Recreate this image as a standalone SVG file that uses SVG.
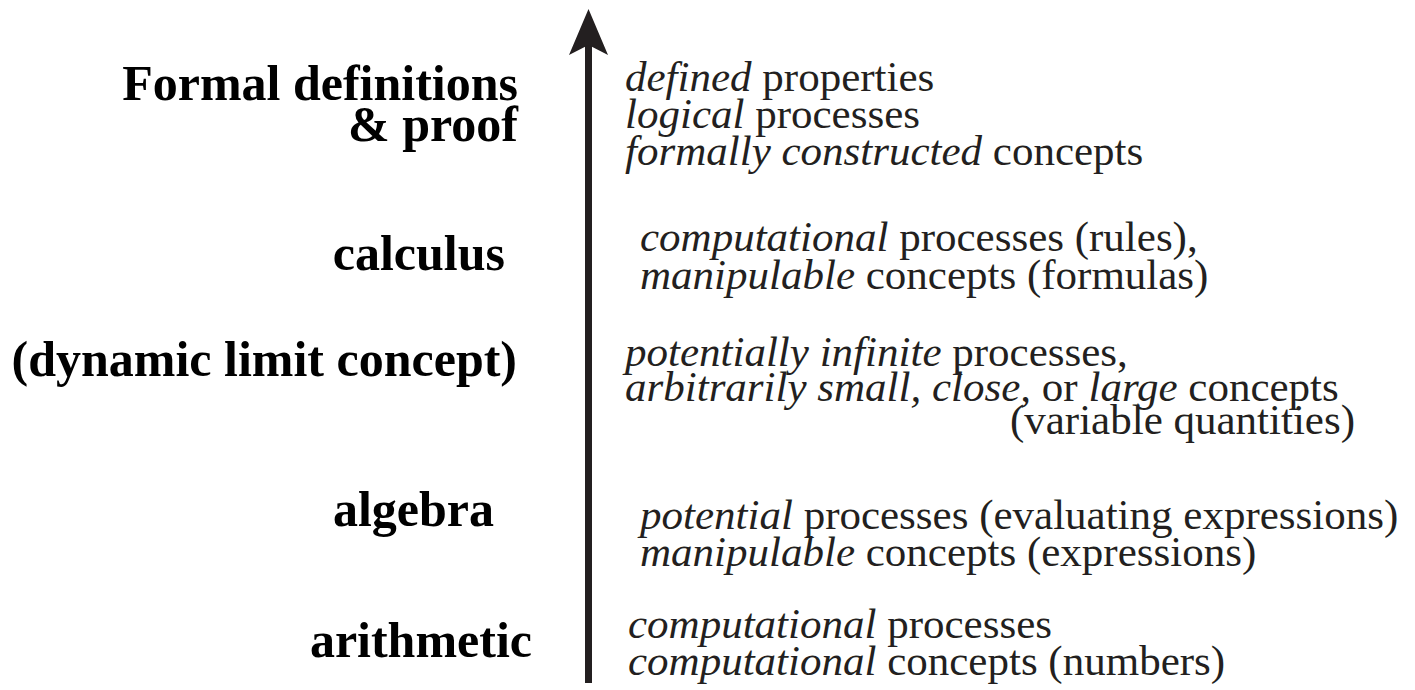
<svg xmlns="http://www.w3.org/2000/svg" width="1415" height="690" viewBox="0 0 1415 690">
<style>
.lbl{font-family:"Liberation Serif","Times New Roman",serif;font-weight:bold;font-size:50px;fill:#000;text-anchor:end}
.desc{font-family:"Liberation Serif","Times New Roman",serif;font-size:43px;fill:#231f20}
.i{font-style:italic}
</style>
<rect width="1415" height="690" fill="#fff"/>
<g id="connectors">
<rect x="585" y="44" width="7" height="639" fill="#231f20"/>
<path d="M588.5,9 L608,55 L588.5,45 L569,55 Z" fill="#231f20"/>
</g>
<g id="formal">
<text class="lbl" x="518" y="100">Formal definitions</text>
<text class="lbl" x="518" y="141">&amp; proof</text>
<text class="desc" x="625" y="91"><tspan class="i">defined</tspan> properties</text>
<text class="desc" x="625" y="128"><tspan class="i">logical</tspan> processes</text>
<text class="desc" x="625" y="165"><tspan class="i">formally constructed</tspan> concepts</text>
</g>
<g id="calculus">
<text class="lbl" x="505" y="270">calculus</text>
<text class="desc" x="640" y="251"><tspan class="i">computational</tspan> processes (rules),</text>
<text class="desc" x="640" y="289"><tspan class="i">manipulable</tspan> concepts (formulas)</text>
</g>
<g id="limit">
<text class="lbl" x="517" y="376">(dynamic limit concept)</text>
<text class="desc" x="625" y="366"><tspan class="i">potentially infinite</tspan> processes,</text>
<text class="desc" x="625" y="401"><tspan class="i">arbitrarily small, close,</tspan> or <tspan class="i">large</tspan> concepts</text>
<text class="desc" x="1355" y="434" text-anchor="end">(variable quantities)</text>
</g>
<g id="algebra">
<text class="lbl" x="494" y="526">algebra</text>
<text class="desc" x="640" y="529"><tspan class="i">potential</tspan> processes (evaluating expressions)</text>
<text class="desc" x="640" y="566"><tspan class="i">manipulable</tspan> concepts (expressions)</text>
</g>
<g id="arithmetic">
<text class="lbl" x="532" y="657">arithmetic</text>
<text class="desc" x="628" y="638"><tspan class="i">computational</tspan> processes</text>
<text class="desc" x="628" y="675"><tspan class="i">computational</tspan> concepts (numbers)</text>
</g>
</svg>
